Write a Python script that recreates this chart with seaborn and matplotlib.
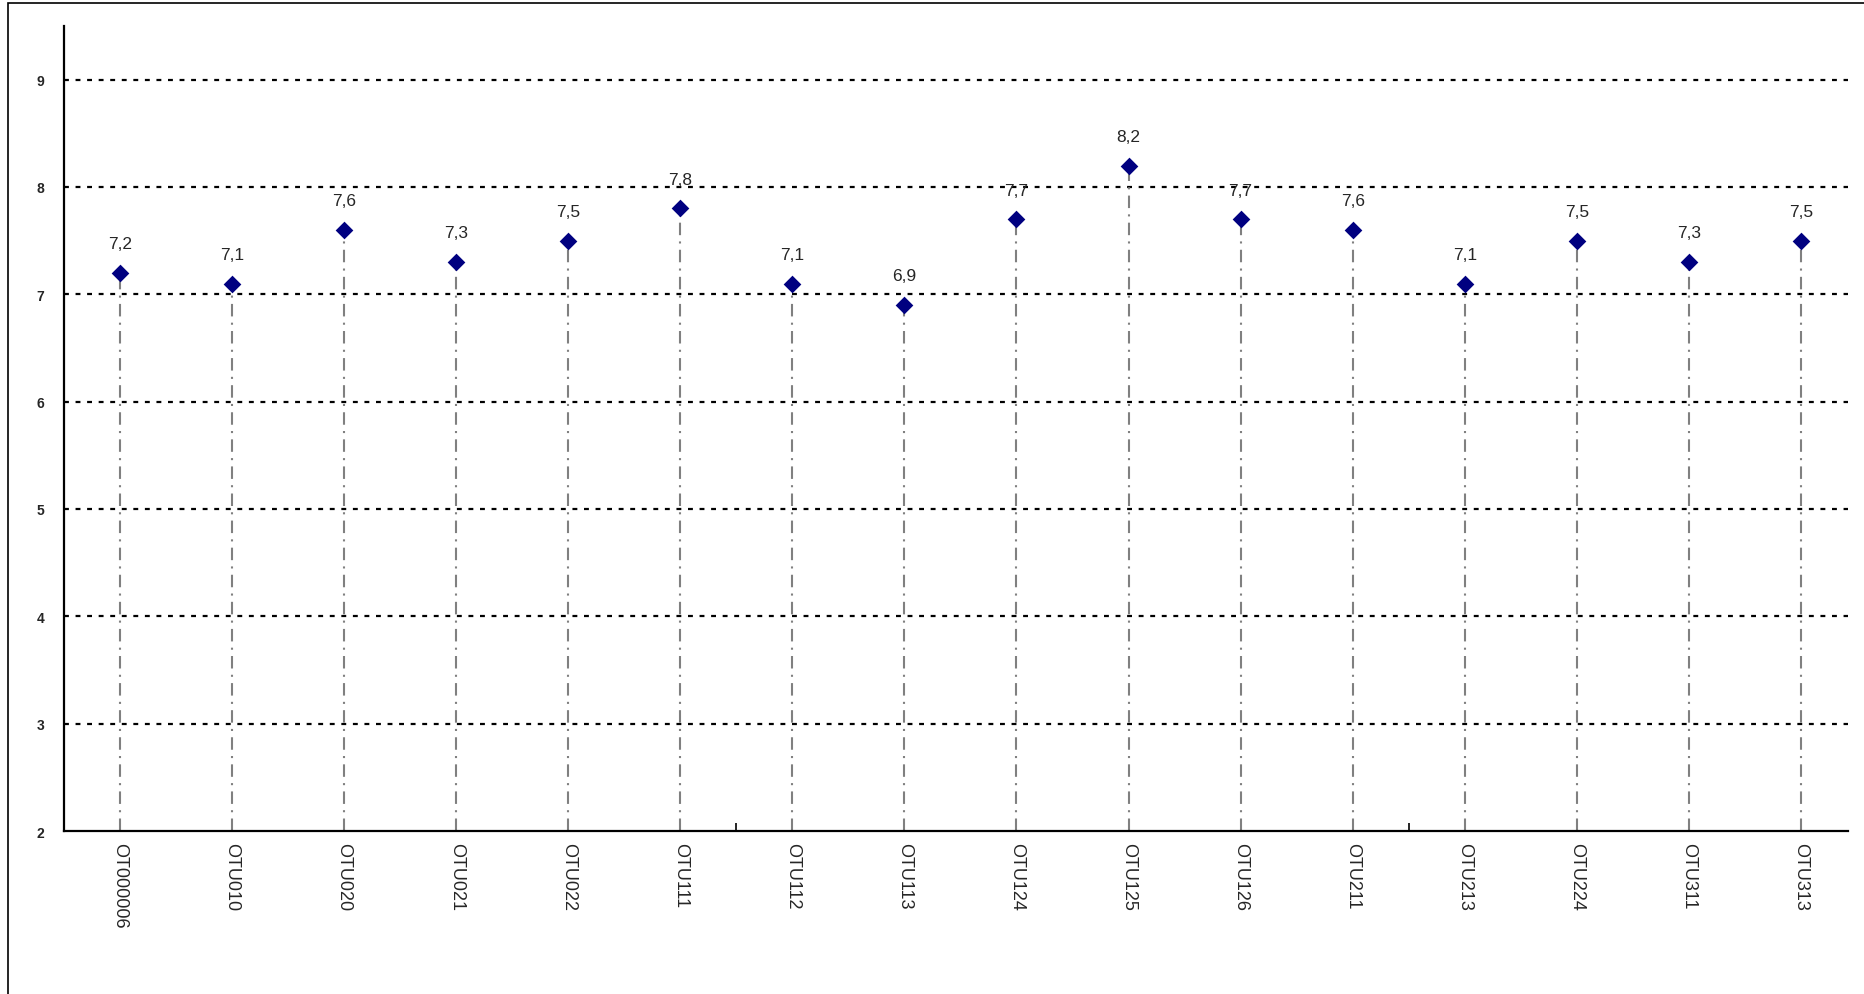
import numpy as np
import pandas as pd
import seaborn as sns
import matplotlib.pyplot as plt
from matplotlib.patches import Rectangle

# data
otus = ['OT000006', 'OTU010', 'OTU020', 'OTU021', 'OTU022', 'OTU111', 'OTU112', 'OTU113',
        'OTU124', 'OTU125', 'OTU126', 'OTU211', 'OTU213', 'OTU224', 'OTU311', 'OTU313']
values = [7.2, 7.1, 7.6, 7.3, 7.5, 7.8, 7.1, 6.9, 7.7, 8.2, 7.7, 7.6, 7.1, 7.5, 7.3, 7.5]
y_ticks = [2, 3, 4, 5, 6, 7, 8, 9]

df = pd.DataFrame({'otu': otus, 'value': values})

sns.set_style('white')
plt.rcParams['font.family'] = ['Liberation Sans', 'DejaVu Sans']

fig = plt.figure(figsize=(18.64, 9.95), dpi=100)
ax = fig.add_axes([0.0343, 0.1638, 0.9571, 0.8091])

# outer frame
fig.patches.append(Rectangle((8 / 1864, -0.1), 1.2, 1.1 - 4 / 995, transform=fig.transFigure,
                             fill=False, edgecolor='black', linewidth=1.2, zorder=0))

# gridlines
for yt in y_ticks[1:]:
    ax.axhline(yt, color='black', linestyle=(0, (2.2, 3)), linewidth=1.6, zorder=1)

# stems
pos = np.arange(len(otus))
ax.vlines(pos, 2, df['value'], colors='#808080', linestyles=(0, (6, 3, 1, 3)),
          linewidth=1.5, zorder=2)

sns.stripplot(data=df, x='otu', y='value', jitter=False, marker='D', color='#000080',
              size=9, linewidth=0, ax=ax, zorder=3)

for i, v in enumerate(values):
    ax.annotate(f'{v:.1f}'.replace('.', ','), (i, v), xytext=(0, 21),
                textcoords='offset points', ha='center', va='center', fontsize=12.5)

ax.set_ylim(2, 9.5)
ax.set_xlim(-0.5, len(otus) - 0.58)
ax.set_yticks(y_ticks)
ax.set_yticklabels([str(t) for t in y_ticks], fontweight='bold', fontsize=10)
ax.set_xticks(pos)
ax.set_xticklabels(otus, rotation=-90, fontsize=13)
ax.set_xticks([5.5, 11.5], minor=True)
ax.tick_params(axis='y', length=0, pad=14)
ax.tick_params(axis='x', which='major', length=0, pad=8)
ax.tick_params(axis='x', which='minor', bottom=True, length=6, direction='in', width=1.2,
               color='black')
ax.set_xlabel('')
ax.set_ylabel('')

for s in ['top', 'right']:
    ax.spines[s].set_visible(False)
for s in ['left', 'bottom']:
    ax.spines[s].set_color('black')
    ax.spines[s].set_linewidth(1.6)

fig.savefig('out.png', dpi=100)
